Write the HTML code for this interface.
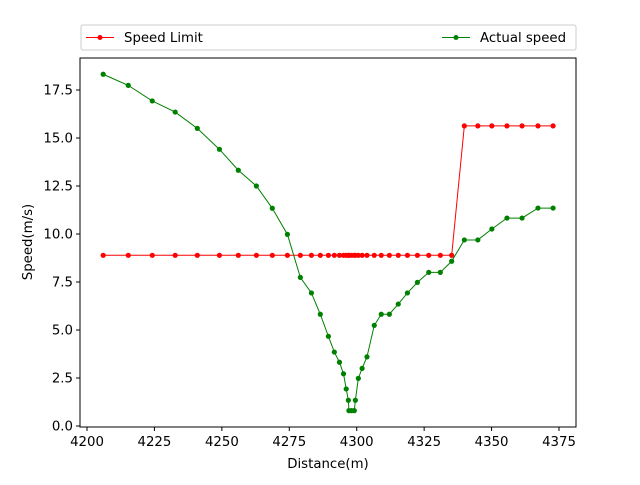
<!DOCTYPE html>
<html><head><meta charset="utf-8"><style>
body{margin:0;background:#fff;}
svg text{font-family:"DejaVu Sans","Liberation Sans",sans-serif;font-size:13.3px;fill:#000;}
</style></head><body>
<svg id="chart" width="640" height="480">
<rect x="80" y="58" width="496" height="369" fill="none" stroke="#000" stroke-width="1"/>
<g id="axes"></g>
<g id="series"></g>
<g>
<rect x="81" y="25" width="495" height="25" rx="2" fill="#fff" stroke="#ccc"/>
<g>
<line x1="86" y1="37.5" x2="114" y2="37.5" stroke="red" stroke-width="1"/><circle cx="100" cy="37.5" r="2.5" fill="red"/>
<text x="124" y="42">Speed Limit</text></g>
<g>
<line x1="442" y1="37.5" x2="470" y2="37.5" stroke="green" stroke-width="1"/><circle cx="456" cy="37.5" r="2.5" fill="green"/>
<text x="480" y="42">Actual speed</text></g>
</g>
<text x="328" y="468" text-anchor="middle">Distance(m)</text>
<text x="32" y="242" text-anchor="middle" transform="rotate(-90 32 242)">Speed(m/s)</text>
</svg>
<script>
const distances=[4206,4215.3,4224.2,4232.7,4240.9,4249.1,4256.1,4262.8,4268.7,4274.3,4279.1,4283.2,4286.5,4289.5,4291.7,4293.6,4295.1,4296.1,4296.9,4297.1,4298.1,4299.1,4299.5,4300.6,4302.0,4303.8,4306.5,4309.1,4312.1,4315.4,4318.8,4322.5,4326.7,4331.0,4335.2,4339.9,4344.9,4350.1,4355.7,4361.3,4367.2,4372.8];
const speedLimit=[8.89,8.89,8.89,8.89,8.89,8.89,8.89,8.89,8.89,8.89,8.89,8.89,8.89,8.89,8.89,8.89,8.89,8.89,8.89,8.89,8.89,8.89,8.89,8.89,8.89,8.89,8.89,8.89,8.89,8.89,8.89,8.89,8.89,8.89,8.89,15.63,15.63,15.63,15.63,15.63,15.63,15.63];
const actualSpeed=[18.32,17.74,16.93,16.35,15.5,14.41,13.32,12.5,11.34,9.98,7.74,6.93,5.82,4.67,3.85,3.32,2.72,1.93,1.34,0.8,0.8,0.8,1.34,2.48,3.0,3.6,5.24,5.82,5.82,6.35,6.93,7.48,8.0,8.0,8.58,9.69,9.69,10.26,10.83,10.83,11.35,11.35];
const xTicks=[4200,4225,4250,4275,4300,4325,4350,4375];
const yTicks=[0,2.5,5,7.5,10,12.5,15,17.5];
const NS="http://www.w3.org/2000/svg";
function X(v){return 87+(v-4200)*67.43/25;}
function Y(v){return 426-v*19.2;}
const axes=document.getElementById('axes');
xTicks.forEach(t=>{
 const l=document.createElementNS(NS,'line');
 l.setAttribute('x1',X(t));l.setAttribute('x2',X(t));l.setAttribute('y1',427);l.setAttribute('y2',431);l.setAttribute('stroke','#000');
 
 
 axes.appendChild(l);
 const tx=document.createElementNS(NS,'text');
 tx.setAttribute('x',X(t));tx.setAttribute('y',446);tx.setAttribute('text-anchor','middle');tx.textContent=t;
 
 
 axes.appendChild(tx);
});
yTicks.forEach(t=>{
 const l=document.createElementNS(NS,'line');
 l.setAttribute('x1',76);l.setAttribute('x2',80);l.setAttribute('y1',Y(t));l.setAttribute('y2',Y(t));l.setAttribute('stroke','#000');
 
 
 axes.appendChild(l);
 const tx=document.createElementNS(NS,'text');
 tx.setAttribute('x',73);tx.setAttribute('y',Y(t)+4.5);tx.setAttribute('text-anchor','end');tx.textContent=t.toFixed(1);
 
 
 axes.appendChild(tx);
});
const series=document.getElementById('series');
function draw(vals,color,name){
 const p=document.createElementNS(NS,'polyline');
 p.setAttribute('points',vals.map((v,i)=>X(distances[i])+','+Y(v)).join(' '));
 p.setAttribute('fill','none');p.setAttribute('stroke',color);p.setAttribute('stroke-width','1');
 
 
 series.appendChild(p);
 vals.forEach((v,i)=>{
  const c=document.createElementNS(NS,'circle');
  c.setAttribute('cx',X(distances[i]));c.setAttribute('cy',Y(v));c.setAttribute('r',2.6);c.setAttribute('fill',color);
  
  
  series.appendChild(c);
 });
}
draw(speedLimit,'red','speed-limit');
draw(actualSpeed,'green','actual-speed');
</script>
</body></html>
